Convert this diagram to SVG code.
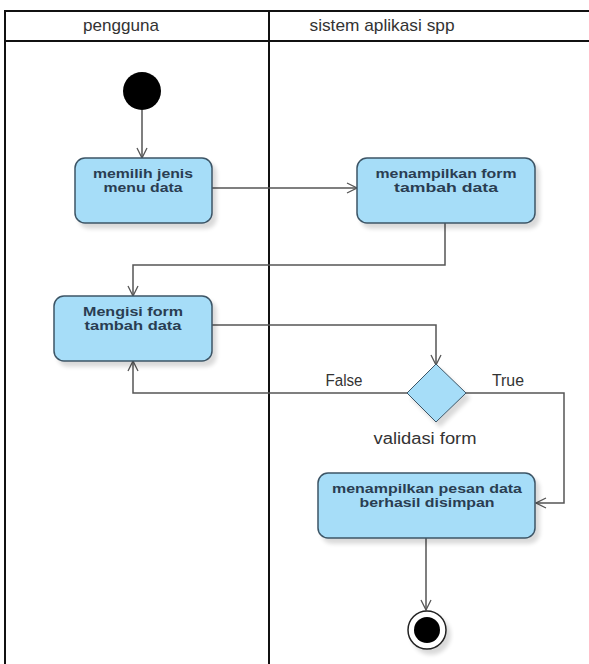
<svg xmlns="http://www.w3.org/2000/svg" width="589" height="664" viewBox="0 0 589 664">
  <defs>
    <marker id="open" viewBox="0 0 12 12" refX="11" refY="6" markerWidth="12" markerHeight="12" markerUnits="userSpaceOnUse" orient="auto">
      <path d="M1,1 L11,6 L1,11" fill="none" stroke="#555" stroke-width="1.3"/>
    </marker>
    <filter id="shadow" x="-10%" y="-10%" width="130%" height="140%">
      <feGaussianBlur in="SourceAlpha" stdDeviation="2"/>
      <feOffset dx="4" dy="5" result="b"/>
      <feComponentTransfer><feFuncA type="linear" slope="0.15"/></feComponentTransfer>
      <feMerge><feMergeNode/><feMergeNode in="SourceGraphic"/></feMerge>
    </filter>
  </defs>
  <style>
    .lane { fill: none; stroke: #111; stroke-width: 2; }
    .lanehead { font-family: "Liberation Sans", Arial, sans-serif; font-size: 17px; fill: #333; text-anchor: middle; }
    .act { fill: #a6ddf8; stroke: #3c5566; stroke-width: 1.5; filter: url(#shadow); }
    .acttext { font-family: "Liberation Sans", Arial, sans-serif; font-size: 13px; font-weight: bold; fill: #2a3d52; text-anchor: middle; }
    .edge { fill: none; stroke: #555; stroke-width: 1.5; marker-end: url(#open); }
    .label { font-family: "Liberation Sans", Arial, sans-serif; font-size: 16px; fill: #333; text-anchor: middle; }
  </style>

  <rect width="589" height="664" fill="#fff"/>

  <!-- swimlanes -->
  <g id="lanes">
    <line class="lane" x1="5" y1="11" x2="589" y2="11"/>
    <line class="lane" x1="5" y1="41" x2="589" y2="41"/>
    <line class="lane" x1="5" y1="10" x2="5" y2="664"/>
    <line class="lane" x1="269" y1="10" x2="269" y2="664" stroke-width="3"/>
    <text class="lanehead" x="121" y="31" textLength="76" lengthAdjust="spacingAndGlyphs">pengguna</text>
    <text class="lanehead" x="382" y="31" textLength="145" lengthAdjust="spacingAndGlyphs">sistem aplikasi spp</text>
  </g>

  <!-- connectors -->
  <g id="connectors">
    <path class="edge" d="M142,110 L142,158"/>
    <path class="edge" d="M212,188 L357,188"/>
    <path class="edge" d="M445,223 L445,265 L133,265 L133,296"/>
    <path class="edge" d="M212,325 L436,325 L436,365"/>
    <path class="edge" d="M407,393 L133,393 L133,361"/>
    <path class="edge" d="M466,393 L564,393 L564,503 L536,503"/>
    <path class="edge" d="M426,538 L426,610"/>
    <text class="label" x="344" y="386" textLength="37" lengthAdjust="spacingAndGlyphs">False</text>
    <text class="label" x="508" y="386" textLength="32" lengthAdjust="spacingAndGlyphs">True</text>
  </g>

  <g id="start">
    <circle cx="142" cy="91" r="19" fill="#000"/>
  </g>

  <g id="memilih-menu">
    <rect class="act" x="75" y="158" width="137" height="65" rx="10"/>
    <text class="acttext" x="143" y="178" textLength="100" lengthAdjust="spacingAndGlyphs">memilih jenis</text>
    <text class="acttext" x="143" y="192" textLength="79" lengthAdjust="spacingAndGlyphs">menu data</text>
  </g>

  <g id="tampil-form">
    <rect class="act" x="357" y="158" width="178" height="65" rx="10"/>
    <text class="acttext" x="446" y="178" textLength="141" lengthAdjust="spacingAndGlyphs">menampilkan form</text>
    <text class="acttext" x="446" y="192" textLength="104" lengthAdjust="spacingAndGlyphs">tambah data</text>
  </g>

  <g id="isi-form">
    <rect class="act" x="54" y="296" width="158" height="65" rx="10"/>
    <text class="acttext" x="133" y="316" textLength="100" lengthAdjust="spacingAndGlyphs">Mengisi form</text>
    <text class="acttext" x="133" y="330" textLength="97" lengthAdjust="spacingAndGlyphs">tambah data</text>
  </g>

  <g id="validasi">
    <polygon points="436,364 466,393 436,422 407,393" fill="#a6ddf8" stroke="#3c5566" stroke-width="1" filter="url(#shadow)"/>
    <text class="label" x="425" y="444" textLength="103" lengthAdjust="spacingAndGlyphs">validasi form</text>
  </g>

  <g id="pesan-sukses">
    <rect class="act" x="318" y="473" width="217" height="65" rx="10"/>
    <text class="acttext" x="427" y="493" textLength="190" lengthAdjust="spacingAndGlyphs">menampilkan pesan data</text>
    <text class="acttext" x="427" y="507" textLength="135" lengthAdjust="spacingAndGlyphs">berhasil disimpan</text>
  </g>

  <g id="end">
    <circle cx="427" cy="630" r="19" fill="#fff" stroke="#222" stroke-width="1.5" filter="url(#shadow)"/>
    <circle cx="427" cy="630" r="13" fill="#000"/>
  </g>
</svg>
